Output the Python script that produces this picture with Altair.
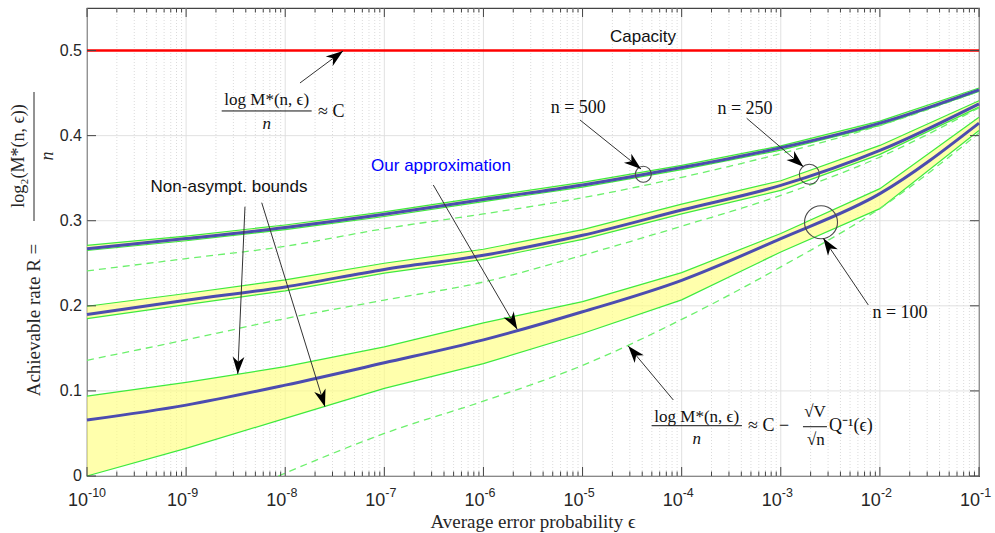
import math
import altair as alt
import pandas as pd

W, H = 892, 468
R_MAX = 0.55

# ---------------- data ----------------
decade_exp = [-10, -9, -8, -7, -6, -5, -4, -3, -2, -1]

n500_approx = [0.267, 0.279, 0.292, 0.3075, 0.325, 0.342, 0.3625, 0.3857, 0.4147, 0.4538]
n500_upper = [0.271, 0.282, 0.295, 0.3105, 0.328, 0.345, 0.365, 0.388, 0.417, 0.456]
n500_lower = [0.265, 0.2765, 0.2895, 0.305, 0.3225, 0.3395, 0.360, 0.383, 0.412, 0.452]
n500_normal = [0.241, 0.2555, 0.270, 0.2907, 0.308, 0.327, 0.351, 0.379, 0.412, 0.452]

n250_approx = [0.1898, 0.2066, 0.2222, 0.2428, 0.2594, 0.2829, 0.3126, 0.3415, 0.3826, 0.4374]
n250_upper = [0.1995, 0.2145, 0.2305, 0.2500, 0.2665, 0.2895, 0.3195, 0.347, 0.3885, 0.441]
n250_lower = [0.185, 0.2015, 0.2175, 0.2385, 0.2545, 0.278, 0.308, 0.3357, 0.378, 0.4335]
n250_normal = [0.136, 0.160, 0.185, 0.2067, 0.228, 0.2594, 0.2936, 0.3298, 0.3748, 0.4327]

n100_approx = [0.0657, 0.0833, 0.1068, 0.133, 0.160, 0.193, 0.230, 0.279, 0.3318, 0.4147]
n100_upper = [0.0939, 0.110, 0.1285, 0.1518, 0.180, 0.205, 0.239, 0.285, 0.3377, 0.4217]
n100_lower = [0.0, 0.0325, 0.0677, 0.103, 0.132, 0.1675, 0.207, 0.2633, 0.3142, 0.406]
n100_normal_exp = [-8.07, -7, -6, -5, -4, -3, -2, -1]
n100_normal = [0.0, 0.05, 0.088, 0.130, 0.184, 0.2457, 0.3145, 0.403]

capacity = [0.5]
y_tick_values = [0, 0.1, 0.2, 0.3, 0.4, 0.5]
y_tick_labels = ["0", "0.1", "0.2", "0.3", "0.4", "0.5"]
x_tick_exps = [-10, -9, -8, -7, -6, -5, -4, -3, -2, -1]
x_tick_base = "10"
x_tick_sup = ["-10", "-9", "-8", "-7", "-6", "-5", "-4", "-3", "-2", "-1"]

# annotations (log10 eps, rate)
sans_text = ["Capacity", "Non-asympt. bounds"]
sans_exp = [-4.39, -8.567]
sans_rate = [0.516, 0.340]

blue_text = ["Our approximation"]
blue_exp = [-6.428]
blue_rate = [0.3643]

nlabel_text = ["n = 500", "n = 250", "n = 100"]
nlabel_exp = [-5.043, -3.361, -1.797]
nlabel_rate = [0.4321, 0.431, 0.1919]

frac_center_text = ["log M*(n, ϵ)", "log M*(n, ϵ)", "√V", "√n"]
frac_center_exp = [-8.187, -3.848, -2.655, -2.645]
frac_center_rate = [0.442, 0.0697, 0.0756, 0.0423]

frac_den_text = ["n", "n"]
frac_den_exp = [-8.187, -3.848]
frac_den_rate = [0.4137, 0.0431]

frac_left_text = ["≈ C", "≈ C −", "Q⁻¹(ϵ)"]
frac_left_exp = [-7.669, -3.330, -2.513]
frac_left_rate = [0.428, 0.0591, 0.0591]

bar_exp_start = [-8.641, -4.303, -2.776]
bar_exp_end = [-7.733, -3.392, -2.534]
bar_rate = [0.429, 0.0591, 0.0579]

arrow_tail_exp = [-7.851, -5.026, -3.344, -2.117, -8.406, -8.237, -6.506, -4.084]
arrow_tail_rate = [0.4619, 0.4184, 0.4204, 0.201, 0.3165, 0.3212, 0.342, 0.0893]
arrow_tip_exp = [-7.417, -4.410, -2.772, -2.571, -8.479, -7.599, -5.659, -4.539]
arrow_tip_rate = [0.4995, 0.3608, 0.3635, 0.2793, 0.1199, 0.0814, 0.1724, 0.1528]

circle_exp = [-4.387, -2.712, -2.594]
circle_rate = [0.3546, 0.3546, 0.2982]
circle_radius_px = [8, 10, 16.5]

# ---------------- helpers ----------------
xs = alt.Scale(type="log", domain=[1e-10, 1e-1], nice=False)
ys = alt.Scale(domain=[0, R_MAX], nice=False, zero=False)


def X(f="eps"):
    return alt.X(f"{f}:Q", scale=xs, axis=None)


def Y(f="r"):
    return alt.Y(f"{f}:Q", scale=ys, axis=None)


def to_px(lx):
    return (lx + 10) / 9 * W


def to_py(r):
    return H - r / R_MAX * H


SANS = "Liberation Sans"
SERIF = "Liberation Serif"
GREEN = "#3EEA3E"
DASH_GREEN = "#6CF06C"
BLUE = "#4C4CB0"
YELLOW = "#FFFF80"
AXC = "#444444"

# ---------------- frames ----------------
eps = [10.0 ** e for e in decade_exp]
band_rows, bound_rows, approx_rows, normal_rows = [], [], [], []
for n, up, lo, ap, nm in [
    (500, n500_upper, n500_lower, n500_approx, n500_normal),
    (250, n250_upper, n250_lower, n250_approx, n250_normal),
    (100, n100_upper, n100_lower, n100_approx, None),
]:
    for i, e in enumerate(eps):
        band_rows.append({"eps": e, "up": up[i], "lo": lo[i], "n": n})
        bound_rows.append({"eps": e, "r": up[i], "s": f"{n}u"})
        bound_rows.append({"eps": e, "r": lo[i], "s": f"{n}l"})
        approx_rows.append({"eps": e, "r": ap[i], "s": n})
        if nm is not None:
            normal_rows.append({"eps": e, "r": nm[i], "s": n})
for e, v in zip(n100_normal_exp, n100_normal):
    normal_rows.append({"eps": 10.0 ** e, "r": v, "s": 100})

band_df = pd.DataFrame(band_rows)
bound_df = pd.DataFrame(bound_rows)
approx_df = pd.DataFrame(approx_rows)
normal_df = pd.DataFrame(normal_rows)

major_df = pd.DataFrame({"eps": [10.0 ** e for e in x_tick_exps]})
minor_df = pd.DataFrame({"eps": [m * 10.0 ** d for d in range(-10, -1) for m in range(2, 10)]})
ytick_df = pd.DataFrame({"r": y_tick_values, "t": y_tick_labels})
xlab_df = pd.DataFrame({"eps": [10.0 ** e for e in x_tick_exps], "b": x_tick_base, "sup": x_tick_sup})

arrows = []
for tx, ty, hx, hy in zip(arrow_tail_exp, arrow_tail_rate, arrow_tip_exp, arrow_tip_rate):
    dx = to_px(hx) - to_px(tx)
    dy = to_py(hy) - to_py(ty)
    ang = math.degrees(math.atan2(dx, -dy)) % 360
    arrows.append({"eps": 10.0 ** tx, "r": ty, "eps2": 10.0 ** hx, "r2": hy, "ang": ang})
arrow_df = pd.DataFrame(arrows)

circle_df = pd.DataFrame({
    "eps": [10.0 ** e for e in circle_exp],
    "r": circle_rate,
    "size": [(2 * rad) ** 2 for rad in circle_radius_px],
})


def text_df(texts, exps, rates):
    return pd.DataFrame({"eps": [10.0 ** e for e in exps], "r": rates, "t": texts})


# ---------------- layers ----------------
minor_grid = alt.Chart(minor_df).mark_rule(color="#D2D2D2", strokeWidth=0.8, strokeDash=[1, 2]).encode(x=X())
major_grid = alt.Chart(major_df).mark_rule(color="#DEDEDE", strokeWidth=0.9).encode(x=X())
y_grid = alt.Chart(ytick_df).mark_rule(color="#DEDEDE", strokeWidth=0.9).encode(y=Y())

band = alt.Chart(band_df).mark_area(color=YELLOW, opacity=0.65).encode(
    x=X(), y=Y("up"), y2="lo:Q", detail="n:N")
bounds = alt.Chart(bound_df).mark_line(color=GREEN, strokeWidth=1.2).encode(
    x=X(), y=Y(), detail="s:N")
normal = alt.Chart(normal_df).mark_line(color=DASH_GREEN, strokeWidth=1.3, strokeDash=[7, 5],
                                        interpolate="monotone").encode(x=X(), y=Y(), detail="s:N")
approx = alt.Chart(approx_df).mark_line(color=BLUE, strokeWidth=3, interpolate="monotone").encode(
    x=X(), y=Y(), detail="s:N")
cap = alt.Chart(pd.DataFrame({"r": capacity})).mark_rule(color="#FF0000", strokeWidth=2.5).encode(y=Y())

circles = alt.Chart(circle_df).mark_point(shape="circle", filled=False, color="#4A4A4A",
                                          strokeWidth=1.1, opacity=1).encode(
    x=X(), y=Y(), size=alt.Size("size:Q", scale=None, legend=None))

shafts = alt.Chart(arrow_df).mark_rule(color="#333333", strokeWidth=1).encode(
    x=X(), y=Y(), x2="eps2:Q", y2="r2:Q")
heads = alt.Chart(arrow_df).mark_point(
    shape="M0,0L0.55,1.6L0,1.15L-0.55,1.6Z", filled=True, color="#000000", opacity=1, size=460,
    strokeWidth=0).encode(x=X("eps2"), y=Y("r2"), angle=alt.Angle("ang:Q", scale=None))

sans_txt = alt.Chart(text_df(sans_text, sans_exp, sans_rate)).mark_text(
    font=SANS, fontSize=17, color="#111111", baseline="middle").encode(x=X(), y=Y(), text="t:N")
blue_txt = alt.Chart(text_df(blue_text, blue_exp, blue_rate)).mark_text(
    font=SANS, fontSize=17, color="#0000FF", baseline="middle").encode(x=X(), y=Y(), text="t:N")
n_txt = alt.Chart(text_df(nlabel_text, nlabel_exp, nlabel_rate)).mark_text(
    font=SERIF, fontSize=18, color="#111111", baseline="middle").encode(x=X(), y=Y(), text="t:N")
fc_txt = alt.Chart(text_df(frac_center_text, frac_center_exp, frac_center_rate)).mark_text(
    font=SERIF, fontSize=17, color="#111111", baseline="middle").encode(x=X(), y=Y(), text="t:N")
fd_txt = alt.Chart(text_df(frac_den_text, frac_den_exp, frac_den_rate)).mark_text(
    font=SERIF, fontSize=17, fontStyle="italic", color="#111111", baseline="middle").encode(
    x=X(), y=Y(), text="t:N")
fl_txt = alt.Chart(text_df(frac_left_text, frac_left_exp, frac_left_rate)).mark_text(
    font=SERIF, fontSize=18, color="#111111", baseline="middle", align="left").encode(
    x=X(), y=Y(), text="t:N")
bars = alt.Chart(pd.DataFrame({
    "eps": [10.0 ** e for e in bar_exp_start],
    "eps2": [10.0 ** e for e in bar_exp_end],
    "r": bar_rate})).mark_rule(color="#111111", strokeWidth=1).encode(x=X(), x2="eps2:Q", y=Y())

# inward ticks
tb_major = alt.Chart(major_df).mark_rule(color=AXC, strokeWidth=1).encode(
    x=X(), y=alt.value(H), y2=alt.value(H - 9))
tt_major = alt.Chart(major_df).mark_rule(color=AXC, strokeWidth=1).encode(
    x=X(), y=alt.value(0), y2=alt.value(9))
tb_minor = alt.Chart(minor_df).mark_rule(color=AXC, strokeWidth=1).encode(
    x=X(), y=alt.value(H), y2=alt.value(H - 4.5))
tt_minor = alt.Chart(minor_df).mark_rule(color=AXC, strokeWidth=1).encode(
    x=X(), y=alt.value(0), y2=alt.value(4.5))
tl = alt.Chart(ytick_df).mark_rule(color=AXC, strokeWidth=1).encode(
    y=Y(), x=alt.value(0), x2=alt.value(9))
tr = alt.Chart(ytick_df).mark_rule(color=AXC, strokeWidth=1).encode(
    y=Y(), x=alt.value(W), x2=alt.value(W - 9))

# tick labels
yl = alt.Chart(ytick_df).mark_text(font=SANS, fontSize=16, color="#262626", align="right",
                                   baseline="middle", dx=-5).encode(
    x=alt.value(0), y=Y(), text="t:N")
xl_base = alt.Chart(xlab_df).mark_text(font=SANS, fontSize=18, color="#262626", align="right",
                                       baseline="alphabetic", dx=1).encode(
    x=X(), y=alt.value(H + 30), text="b:N")
xl_sup = alt.Chart(xlab_df).mark_text(font=SANS, fontSize=12.5, color="#262626", align="left",
                                      baseline="alphabetic", dx=1).encode(
    x=X(), y=alt.value(H + 21), text="sup:N")

# axis titles
x_title = alt.Chart(pd.DataFrame({"t": ["Average error probability ϵ"]})).mark_text(
    font=SERIF, fontSize=19, color="#262626", baseline="middle").encode(
    x=alt.value(W / 2), y=alt.value(H + 46), text="t:N")
y_title_a = alt.Chart(pd.DataFrame({"t": ["Achievable rate R ="]})).mark_text(
    font=SERIF, fontSize=19, color="#262626", baseline="middle", angle=270).encode(
    x=alt.value(-53), y=alt.value(312), text="t:N")
y_title_num = alt.Chart(pd.DataFrame({"t": ["log₂(M*(n, ϵ))"]})).mark_text(
    font=SERIF, fontSize=18, color="#262626", baseline="middle", angle=270).encode(
    x=alt.value(-68), y=alt.value(148), text="t:N")
y_title_bar = alt.Chart(pd.DataFrame({"t": ["bar"]})).mark_rule(color="#262626", strokeWidth=1).encode(
    x=alt.value(-53), y=alt.value(84), y2=alt.value(213))
y_title_den = alt.Chart(pd.DataFrame({"t": ["n"]})).mark_text(
    font=SERIF, fontSize=18, fontStyle="italic", color="#262626", baseline="middle", angle=270).encode(
    x=alt.value(-39), y=alt.value(148), text="t:N")

chart = alt.layer(
    minor_grid, major_grid, y_grid,
    band, bounds, normal, approx, cap,
    circles, shafts, heads,
    sans_txt, blue_txt, n_txt, fc_txt, fd_txt, fl_txt, bars,
    tb_major, tt_major, tb_minor, tt_minor, tl, tr,
    yl, xl_base, xl_sup, x_title, y_title_a, y_title_num, y_title_bar, y_title_den,
).properties(
    width=W, height=H,
    padding={"left": 87, "top": 8, "right": 16, "bottom": 57},
    autosize="none",
    background="white",
).configure_view(stroke=AXC, strokeWidth=1.2)

chart.save("out.html", embed_options={"renderer": "svg", "actions": False})
